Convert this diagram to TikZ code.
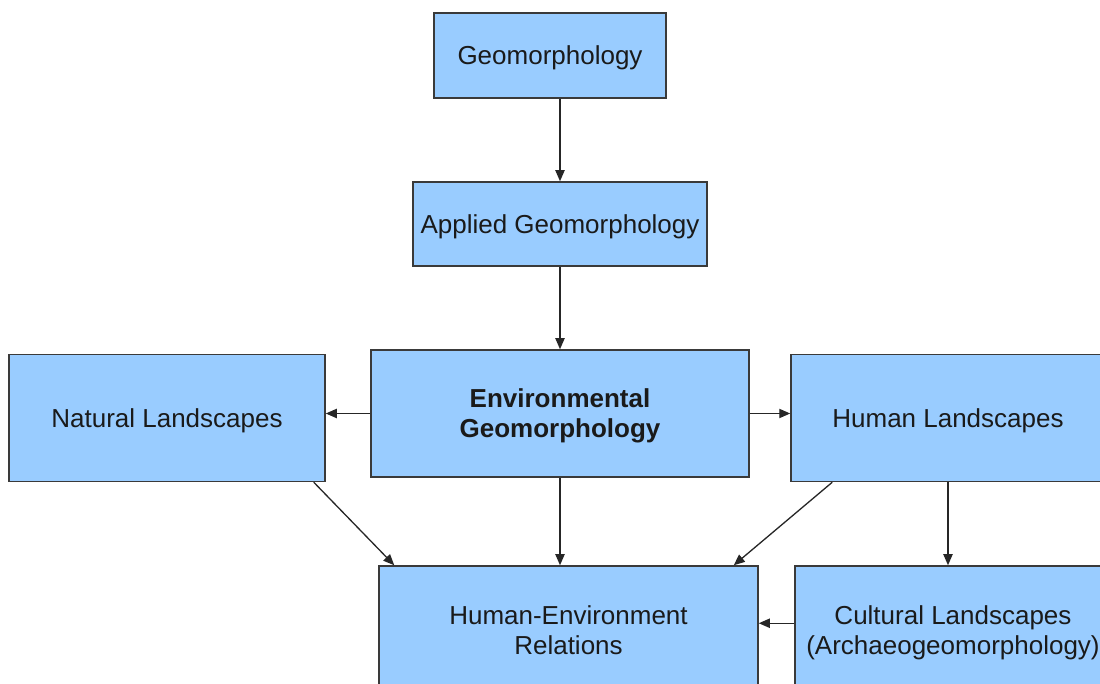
\documentclass[tikz,border=0pt]{standalone}
\usepackage{fontspec}
\setmainfont{Liberation Sans}
\usetikzlibrary{arrows.meta,calc}
\definecolor{boxfill}{HTML}{99CCFF}
\definecolor{boxline}{HTML}{3A3A3A}
\definecolor{txt}{HTML}{1A1A1A}
\tikzset{
  box/.style={draw=boxline, fill=boxfill, line width=0.75pt, rectangle, inner sep=0pt,
    align=center, text=txt, text depth=0pt, font=\fontsize{13}{15}\selectfont},
  conn/.style={draw=black!85, line width=0.65pt, -{Triangle[length=5.5pt,width=4.6pt]}}
}
\begin{document}
\begin{tikzpicture}[x=0.5pt,y=-0.5pt]
\useasboundingbox (0,0) rectangle (1100,684);
\clip (0,0) rectangle (1100,684);
\fill[white] (0,0) rectangle (1100,684);
\node[box, minimum width=116pt, minimum height=42.5pt] (geo) at (550,55.5) {Geomorphology};
\node[box, minimum width=147pt, minimum height=42pt] (app) at (560,224) {Applied Geomorphology};
\node[box, minimum width=158pt, minimum height=63.5pt] (nat) at (167,418) {Natural Landscapes};
\node[box, minimum width=189pt, minimum height=63.5pt, font=\fontsize{13}{15}\selectfont\bfseries] (env) at (560,413.5) {Environmental\\Geomorphology};
\node[box, minimum width=157pt, minimum height=63.5pt] (hum) at (948,418) {Human Landscapes};
\node[box, minimum width=189.5pt, minimum height=64pt] (her) at (568.5,630) {Human-Environment\\Relations};
\node[box, minimum width=158pt, minimum height=64pt] (cul) at (953,630) {Cultural Landscapes\\(Archaeogeomorphology)};
\draw[conn] (app.north |- geo.south) -- (app.north);
\draw[conn] (app.south) -- (env.north);
\draw[conn] (env.west) -- (nat.east |- env.west);
\draw[conn] (env.east) -- (hum.west |- env.east);
\draw[conn] (env.south) -- (env.south |- her.north);
\draw[conn] ($(nat.south east)+(-12,0)$) -- ($(her.north west)+(16,0)$);
\draw[conn] ($(hum.south west)+(42,0)$) -- ($(her.north east)+(-25,0)$);
\draw[conn] (hum.south) -- (hum.south |- cul.north);
\draw[conn] ($(cul.north west)+(0,58)$) -- ($(her.north east)+(0,58)$);
\end{tikzpicture}
\end{document}
